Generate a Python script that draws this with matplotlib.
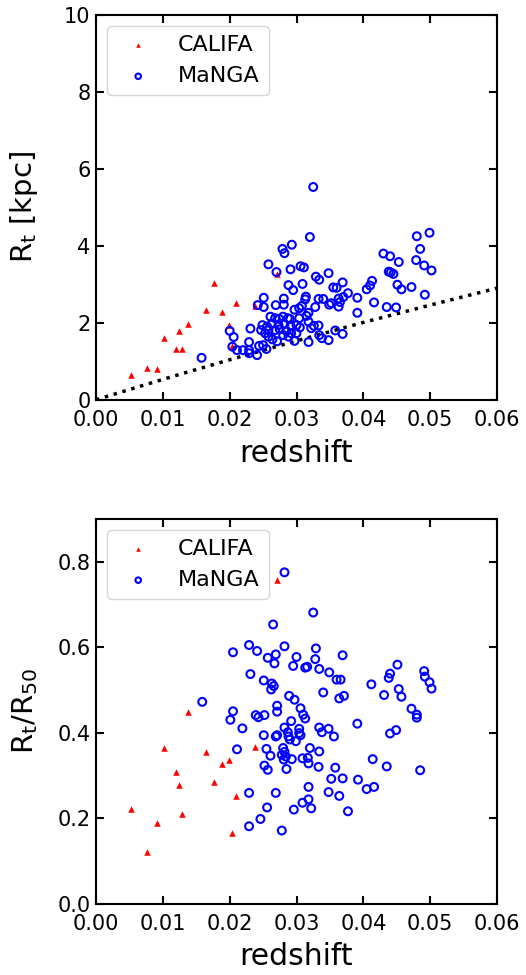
import matplotlib
matplotlib.use("Agg")
import matplotlib.pyplot as plt

# ---------------- data ----------------
z_califa = [0.0053, 0.0077, 0.0091, 0.0102, 0.0120, 0.0128, 0.0124, 0.0138,
            0.0164, 0.0177, 0.0188, 0.0199, 0.0209, 0.0204, 0.0238, 0.0271]
rt_califa = [0.64, 0.82, 0.80, 1.60, 1.31, 1.31, 1.78, 1.98,
             2.34, 3.03, 2.28, 1.93, 2.52, 1.40, 2.44, 3.26]
ratio_califa = [0.222, 0.120, 0.189, 0.363, 0.308, 0.209, 0.277, 0.449,
                0.354, 0.284, 0.326, 0.336, 0.252, 0.165, 0.366, 0.756]

z_manga_top = [0.0325, 0.0499, 0.0480, 0.0485, 0.0320, 0.0293, 0.0430, 0.0440, 0.0479, 0.0453,
               0.0491, 0.0502, 0.0306, 0.0311, 0.0291, 0.0438, 0.0441, 0.0445, 0.0348, 0.0329,
               0.0334, 0.0413, 0.0410, 0.0405, 0.0369, 0.0309, 0.0451, 0.0457, 0.0472, 0.0295,
               0.0355, 0.0360, 0.0377, 0.0370, 0.0314, 0.0313, 0.0333, 0.0340, 0.0391, 0.0363,
               0.0365, 0.0349, 0.0352, 0.0363, 0.0416, 0.0492, 0.0435, 0.0449, 0.0328, 0.0308,
               0.0304, 0.0297, 0.0318, 0.0315, 0.0391, 0.0304, 0.0318, 0.0290, 0.0333, 0.0326,
               0.0322, 0.0300, 0.0305, 0.0358, 0.0369, 0.0334, 0.0338, 0.0348, 0.0318, 0.0297,
               0.0300, 0.0279, 0.0282, 0.0258, 0.0270, 0.0288, 0.0251, 0.0281, 0.0242, 0.0251,
               0.0269, 0.0281, 0.0261, 0.0268, 0.0274, 0.0280, 0.0287, 0.0231, 0.0249, 0.0256,
               0.0263, 0.0273, 0.0282, 0.0291, 0.0247, 0.0253, 0.0258, 0.0268, 0.0275, 0.0285,
               0.0292, 0.0258, 0.0264, 0.0271, 0.0280, 0.0288, 0.0200, 0.0206, 0.0158, 0.0204,
               0.0211, 0.0220, 0.0229, 0.0229, 0.0229, 0.0241, 0.0244, 0.0250, 0.0255]
rt_manga = [5.53, 4.34, 4.25, 3.92, 4.23, 4.03, 3.80, 3.73, 3.63, 3.58,
            3.49, 3.36, 3.47, 3.44, 3.39, 3.33, 3.31, 3.27, 3.29, 3.20,
            3.12, 3.09, 2.97, 2.87, 3.05, 3.01, 2.99, 2.87, 2.93, 2.85,
            2.92, 2.91, 2.77, 2.67, 2.68, 2.61, 2.62, 2.62, 2.65, 2.63,
            2.54, 2.47, 2.51, 2.42, 2.53, 2.73, 2.41, 2.40, 2.41, 2.44,
            2.38, 2.34, 2.26, 2.18, 2.26, 2.12, 2.03, 2.10, 1.93, 1.92,
            1.86, 1.94, 1.88, 1.80, 1.71, 1.68, 1.60, 1.55, 1.50, 1.53,
            1.73, 3.92, 3.81, 3.52, 3.32, 2.98, 2.65, 2.63, 2.46, 2.41,
            2.46, 2.47, 2.16, 2.12, 2.10, 2.16, 2.12, 1.85, 1.94, 1.90,
            1.97, 1.94, 1.97, 1.92, 1.81, 1.73, 1.81, 1.81, 1.83, 1.79,
            1.73, 1.64, 1.57, 1.52, 1.68, 1.64, 1.79, 1.63, 1.09, 1.38,
            1.29, 1.29, 1.50, 1.29, 1.21, 1.16, 1.40, 1.42, 1.32]

z_manga_bot = [0.0282, 0.0265, 0.0205, 0.0229, 0.0241, 0.0257, 0.0269, 0.0267, 0.0282, 0.0300,
               0.0295, 0.0313, 0.0316, 0.0231, 0.0251, 0.0263, 0.0266, 0.0262, 0.0159, 0.0289,
               0.0297, 0.0306, 0.0271, 0.0271, 0.0205, 0.0201, 0.0219, 0.0239, 0.0243, 0.0252,
               0.0292, 0.0310, 0.0313, 0.0282, 0.0251, 0.0269, 0.0271, 0.0287, 0.0288, 0.0290,
               0.0299, 0.0304, 0.0304, 0.0306, 0.0211, 0.0255, 0.0261, 0.0280, 0.0282, 0.0278,
               0.0284, 0.0281, 0.0293, 0.0252, 0.0257, 0.0285, 0.0229, 0.0269, 0.0256, 0.0296,
               0.0309, 0.0246, 0.0229, 0.0278, 0.0325, 0.0329, 0.0369, 0.0328, 0.0334, 0.0349,
               0.0451, 0.0440, 0.0438, 0.0360, 0.0366, 0.0491, 0.0492, 0.0499, 0.0502, 0.0412,
               0.0453, 0.0457, 0.0431, 0.0340, 0.0364, 0.0371, 0.0472, 0.0480, 0.0480, 0.0391,
               0.0334, 0.0338, 0.0348, 0.0356, 0.0449, 0.0440, 0.0320, 0.0334, 0.0309, 0.0317,
               0.0318, 0.0333, 0.0358, 0.0414, 0.0435, 0.0485, 0.0352, 0.0369, 0.0392, 0.0318,
               0.0348, 0.0364, 0.0405, 0.0416, 0.0318, 0.0322, 0.0377]
ratio_manga = [0.775, 0.653, 0.588, 0.605, 0.591, 0.575, 0.583, 0.562, 0.602, 0.577,
               0.556, 0.552, 0.554, 0.537, 0.522, 0.515, 0.509, 0.501, 0.472, 0.486,
               0.477, 0.457, 0.463, 0.449, 0.450, 0.430, 0.410, 0.441, 0.436, 0.441,
               0.427, 0.442, 0.433, 0.412, 0.394, 0.391, 0.394, 0.401, 0.391, 0.384,
               0.380, 0.409, 0.399, 0.394, 0.361, 0.362, 0.346, 0.364, 0.355, 0.348,
               0.344, 0.337, 0.338, 0.323, 0.313, 0.315, 0.259, 0.259, 0.225, 0.220,
               0.236, 0.198, 0.181, 0.171, 0.681, 0.597, 0.581, 0.572, 0.549, 0.541,
               0.559, 0.538, 0.528, 0.524, 0.524, 0.544, 0.531, 0.518, 0.503, 0.513,
               0.502, 0.484, 0.488, 0.494, 0.480, 0.486, 0.456, 0.442, 0.435, 0.421,
               0.412, 0.401, 0.409, 0.391, 0.406, 0.398, 0.364, 0.356, 0.340, 0.341,
               0.328, 0.320, 0.318, 0.338, 0.321, 0.312, 0.292, 0.293, 0.290, 0.273,
               0.261, 0.252, 0.268, 0.273, 0.244, 0.223, 0.216]

# resolution-limit curve
z_limit = [0.0, 0.01, 0.02, 0.03, 0.04, 0.05, 0.06]
rt_limit = [0.0, 0.53, 1.04, 1.53, 2.01, 2.46, 2.90]

x_ticks = [0.00, 0.01, 0.02, 0.03, 0.04, 0.05, 0.06]
y_ticks_top = [0, 2, 4, 6, 8, 10]
y_ticks_bot = [0.0, 0.2, 0.4, 0.6, 0.8]

# ---------------- figure ----------------
plt.rcParams['font.family'] = ['DejaVu Sans']
plt.rcParams['mathtext.fontset'] = 'dejavusans'

fig = plt.figure(figsize=(5.26, 9.75), dpi=100)
ax1 = fig.add_axes([0.1825, 0.590, 0.7624, 0.3946])
ax2 = fig.add_axes([0.1825, 0.0732, 0.7624, 0.3946])


def style(ax):
    for sp in ax.spines.values():
        sp.set_linewidth(1.5)
    ax.tick_params(direction='in', top=True, right=True, length=6, width=1.5,
                   labelsize=15, pad=4)
    ax.tick_params(axis='x', pad=7.5)
    ax.set_xlim(0, 0.06)
    ax.set_xticks(x_ticks)
    ax.set_xticklabels([f"{t:.2f}" for t in x_ticks])
    ax.set_xlabel('redshift', fontsize=21.5, labelpad=6)
    ax.yaxis.set_label_coords(-0.140, 0.5)


# top panel
ax1.scatter(z_califa, rt_califa, marker='^', s=22, c='r', linewidths=0, label='CALIFA', zorder=2)
ax1.scatter(z_manga_top, rt_manga, marker='o', s=32, facecolors='none', edgecolors='b',
            linewidths=1.5, label='MaNGA', zorder=3)
ax1.plot(z_limit, rt_limit, color='k', linestyle=':', linewidth=2.5, zorder=1)
ax1.set_ylim(0, 10)
ax1.set_yticks(y_ticks_top)
ax1.set_ylabel(r'$\mathrm{R_t}$ [kpc]', fontsize=21)
style(ax1)
ax1.legend(loc='upper left', fontsize=16, markerscale=0.7)

# bottom panel
ax2.scatter(z_califa, ratio_califa, marker='^', s=22, c='r', linewidths=0, label='CALIFA', zorder=2)
ax2.scatter(z_manga_bot, ratio_manga, marker='o', s=32, facecolors='none', edgecolors='b',
            linewidths=1.5, label='MaNGA', zorder=3)
ax2.set_ylim(0, 0.9)
ax2.set_yticks(y_ticks_bot)
ax2.set_yticklabels([f"{t:.1f}" for t in y_ticks_bot])
ax2.set_ylabel(r'$\mathrm{R_t/R_{50}}$', fontsize=21)
style(ax2)
ax2.legend(loc='upper left', fontsize=16, markerscale=0.7)

fig.savefig('out.png', dpi=100)
